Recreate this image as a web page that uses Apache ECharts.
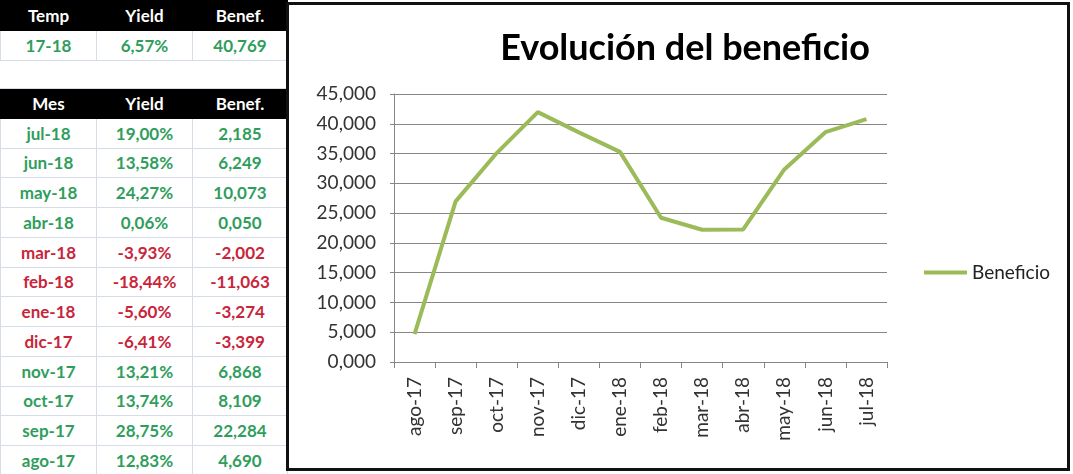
<!DOCTYPE html>
<html>
<head>
<meta charset="utf-8">
<script src="https://cdn.jsdelivr.net/npm/echarts@6/dist/echarts.min.js"></script>
<style>
  html, body { margin: 0; padding: 0; background: #fff; }
  #page { position: relative; width: 1073px; height: 474px; overflow: hidden; background: #fff; }
  #tabla { position: absolute; left: 0; top: 0; width: 287px; }
  table { border-collapse: collapse; table-layout: fixed; width: 287px; font-family: Lato, "Open Sans", sans-serif; font-weight: bold; font-size: 17px; }
  td { border: 1px solid #d6dde8; text-align: center; padding: 0; height: 28.75px; }
  tr.head td { background: #000; color: #fff; border-color: #000; height: 29px; }
  tr.blank td { border-left: none; border-right: none; height: 27px; }
  .pos { color: #2f9e5c; }
  .neg { color: #c8253a; }
  #frame { position: absolute; left: 286px; top: 2px; width: 778px; height: 463px; border: 3px solid #111; background: #fff; }
  #chart { width: 778px; height: 463px; }
</style>
</head>
<body>
<div id="page">
  <div id="tabla"></div>
  <div id="frame"><div id="chart"></div></div>
</div>
<script>
// resumen anual
const tempLabel = '17-18';
const tempYield = '6,57%';
const tempBenef = '40,769';

// tabla mensual (de más reciente a más antiguo)
const meses = ['jul-18', 'jun-18', 'may-18', 'abr-18', 'mar-18', 'feb-18', 'ene-18', 'dic-17', 'nov-17', 'oct-17', 'sep-17', 'ago-17'];
const yields = ['19,00%', '13,58%', '24,27%', '0,06%', '-3,93%', '-18,44%', '-5,60%', '-6,41%', '13,21%', '13,74%', '28,75%', '12,83%'];
const benefs = ['2,185', '6,249', '10,073', '0,050', '-2,002', '-11,063', '-3,274', '-3,399', '6,868', '8,109', '22,284', '4,690'];

// gráfico: beneficio acumulado
const categorias = ['ago-17', 'sep-17', 'oct-17', 'nov-17', 'dic-17', 'ene-18', 'feb-18', 'mar-18', 'abr-18', 'may-18', 'jun-18', 'jul-18'];
const beneficio = [4.690, 26.974, 35.083, 41.951, 38.552, 35.278, 24.215, 22.213, 22.263, 32.336, 38.585, 40.769];

// construir la tabla
let html = '<table><colgroup><col style="width:96px"><col style="width:96px"><col style="width:95px"></colgroup>';
html += '<tr class="head"><td>Temp</td><td>Yield</td><td>Benef.</td></tr>';
html += '<tr class="pos"><td>' + tempLabel + '</td><td>' + tempYield + '</td><td>' + tempBenef + '</td></tr>';
html += '<tr class="blank"><td></td><td></td><td></td></tr>';
html += '<tr class="head"><td>Mes</td><td>Yield</td><td>Benef.</td></tr>';
meses.forEach((m, i) => {
    const cls = yields[i].charAt(0) === '-' ? 'neg' : 'pos';
    html += '<tr class="' + cls + '"><td>' + m + '</td><td>' + yields[i] + '</td><td>' + benefs[i] + '</td></tr>';
});
html += '</table>';
document.getElementById('tabla').innerHTML = html;

const fmt = (v) => v.toFixed(3).replace('.', ',');

const chart = echarts.init(document.getElementById('chart'), null, { renderer: 'canvas' });
chart.setOption({
    animation: false,
    backgroundColor: '#fff',
    title: {
        text: 'Evolución del beneficio',
        left: 391,
        textAlign: 'center',
        top: 20,
        textStyle: { fontFamily: 'Lato', fontWeight: 'bold', fontSize: 36, color: '#000' }
    },
    legend: {
        left: 630,
        top: 253,
        orient: 'vertical',
        icon: 'rect',
        itemWidth: 43,
        itemHeight: 4,
        itemGap: 5,
        textStyle: { fontFamily: 'Lato', fontSize: 19, color: '#222' },
        data: ['Beneficio']
    },
    grid: { left: 105, right: 180, top: 89, bottom: 106 },
    xAxis: {
        type: 'category',
        data: categorias,
        boundaryGap: true,
        axisLine: { lineStyle: { color: '#868686', width: 1 } },
        axisTick: { show: true, length: 6, lineStyle: { color: '#868686' } },
        axisLabel: { rotate: 90, margin: 15, fontFamily: 'Lato', fontSize: 19, color: '#333' }
    },
    yAxis: {
        type: 'value',
        min: 0,
        max: 45,
        interval: 5,
        axisLine: { show: true, lineStyle: { color: '#868686' } },
        axisTick: { show: true, length: 4, lineStyle: { color: '#868686' } },
        splitLine: { lineStyle: { color: '#868686', width: 1 } },
        axisLabel: { formatter: fmt, margin: 18, fontFamily: 'Lato', fontSize: 19, color: '#333' }
    },
    series: [{
        name: 'Beneficio',
        type: 'line',
        data: beneficio,
        showSymbol: false,
        symbol: 'none',
        itemStyle: { color: '#9bbb59' },
        lineStyle: { color: '#9bbb59', width: 4 }
    }]
});
</script>
</body>
</html>
